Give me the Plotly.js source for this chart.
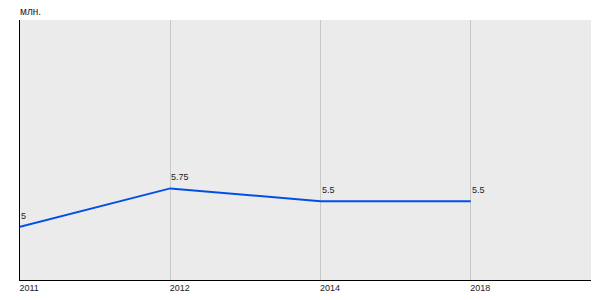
<!DOCTYPE html>
<html>
<head>
<meta charset="utf-8">
<script src="https://cdn.plot.ly/plotly-3.0.1.min.js"></script>
<style>html,body{margin:0;padding:0;background:#fff;}#chart{width:600px;height:300px;}</style>
</head>
<body>
<div id="chart"></div>
<script>
const years = ["2011", "2012", "2014", "2018"];
const values = [5, 5.75, 5.5, 5.5];
const labels = ["5", "5.75", "5.5", "5.5"];
const unitLabel = "млн.";

const trace = {
  x: years,
  y: values,
  type: "scatter",
  mode: "lines",
  line: {color: "#0050e6", width: 2},
  hoverinfo: "skip"
};

const annotations = years.map((y, i) => ({
  x: i, y: values[i], xref: "x", yref: "y",
  text: labels[i], showarrow: false,
  xanchor: "left", yanchor: "bottom", yshift: 4, xshift: -1,
  font: {family: "Liberation Sans, Arial, sans-serif", size: 9, color: "#222"}
}));
annotations.push({
  x: 0, y: 1, xref: "paper", yref: "paper",
  text: unitLabel, showarrow: false,
  xanchor: "left", yanchor: "bottom", yshift: 1, xshift: -2,
  font: {family: "Liberation Sans, Arial, sans-serif", size: 10, color: "#222"}
});

const layout = {
  width: 600, height: 300,
  margin: {l: 20, r: 9, t: 20, b: 20},
  paper_bgcolor: "#ffffff",
  plot_bgcolor: "#ebebeb",
  showlegend: false,
  xaxis: {
    type: "category",
    range: [0, 3.8],
    showgrid: true, gridcolor: "#c8c8c8", gridwidth: 1,
    zeroline: false,
    showline: true, linecolor: "#000", linewidth: 1,
    ticks: "", ticklabelposition: "outside right",
    ticklabelshift: -1, ticklabelstandoff: -1,
    tickfont: {family: "Liberation Sans, Arial, sans-serif", size: 9, color: "#222"},
    fixedrange: true
  },
  yaxis: {
    range: [3.96, 9.04],
    showgrid: false, zeroline: false,
    showline: true, linecolor: "#000", linewidth: 1,
    showticklabels: false, ticks: "",
    fixedrange: true
  },
  annotations: annotations
};

Plotly.newPlot("chart", [trace], layout, {displayModeBar: false, staticPlot: true});
</script>
</body>
</html>
